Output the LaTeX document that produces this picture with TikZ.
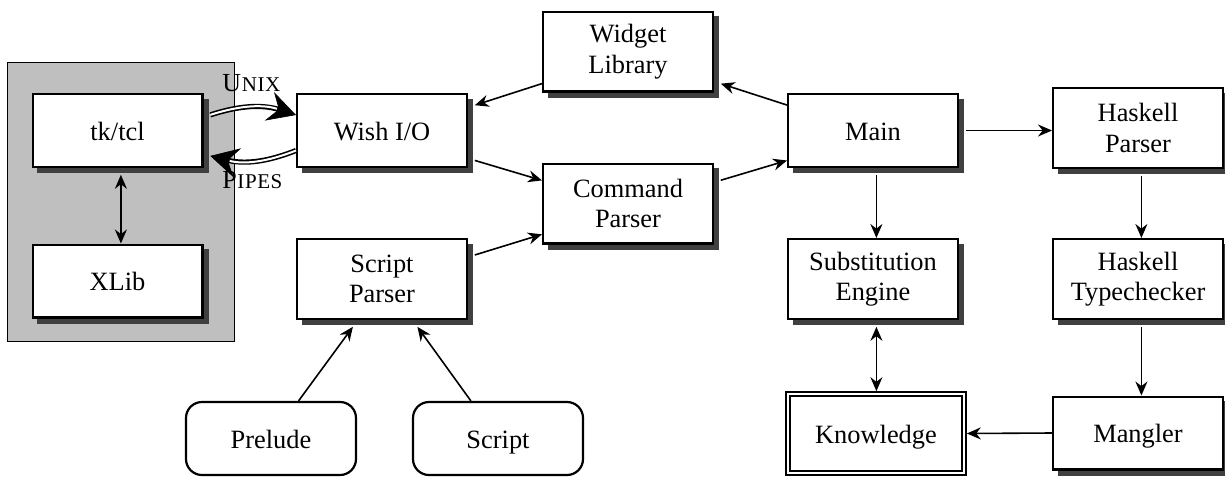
\documentclass[tikz,border=0pt]{standalone}
\usepackage{fontspec}
\setmainfont{Liberation Serif}
\usetikzlibrary{arrows.meta,shadows,fit}
\begin{document}
\begin{tikzpicture}[x=0.5pt,y=0.5pt,
  txt/.style={font=\fontsize{13.2}{15.3}\selectfont, align=center},
  one/.style={text height=10.5pt, text depth=1pt},
  box/.style={txt, draw, line width=1.2pt, fill=white, minimum width=84.8pt, minimum height=36.3pt, inner sep=0pt,
     drop shadow={shadow xshift=2.75pt, shadow yshift=-2.75pt, fill=black!75, draw=black!75, line width=1pt, opacity=1}},
  tall/.style={minimum height=39.8pt},
  rbox/.style={txt, one, draw, line width=1.1pt, fill=white, rounded corners=8pt, minimum width=85pt, minimum height=36.5pt, inner sep=0pt},
  hull/.style={inner sep=0pt, outer sep=0pt},
  conn/.style={line width=0.8pt, -{Stealth[length=7pt,width=6pt,inset=2.3pt]}},
  biconn/.style={line width=0.8pt, {Stealth[length=7pt,width=6pt,inset=2.3pt]}-{Stealth[length=7pt,width=6pt,inset=2.3pt]}},
  bigtip/.style={line width=0.3pt, -{Stealth[length=14pt,width=15pt,inset=5pt]}},
  pipeouter/.style={line width=2.6pt, shorten >=8pt},
  pipeinner/.style={white, line width=1pt, shorten >=10pt},
  lbl/.style={anchor=base west, inner sep=0pt},
]
\useasboundingbox (0,0) rectangle (1225,-477);
% grey panel
\draw[fill=black!25, line width=0.5pt] (7,-62) rectangle (234,-341);

% boxes
\node[box,one] (tk) at (117.5,-130.5) {tk/tcl};
\node[box,one] (xlib) at (117.5,-281) {XLib};
\node[box,one] (wish) at (382,-130.5) {Wish I/O};
\node[box,tall] (widget) at (628,-51.5) {Widget\\Library};
\node[box,tall] (cmd) at (628,-203.5) {Command\\Parser};
\node[box,tall] (sp) at (382,-279) {Script\\Parser};
\node[rbox] (prelude) at (271,-438.5) {Prelude};
\node[rbox] (script) at (498,-438.5) {Script};
\node[box,one] (main) at (873,-130.5) {Main};
\node[box,tall] (hp) at (1138,-128) {Haskell\\Parser};
\node[box,tall] (se) at (873,-279) {Substitution\\Engine};
\node[box,tall] (ht) at (1138,-279) {Haskell\\Typechecker};
\node[box,one] (mangler) at (1138,-433) {Mangler};
\node[txt, one, draw, line width=1.2pt, minimum width=85.8pt, minimum height=37.3pt, inner sep=0pt] (know) at (876,-433.5) {Knowledge};
\node[draw, line width=0.8pt, inner sep=1.5pt, fit=(know)] (knowO) {};

% hulls including the shadows
\foreach \n in {tk,xlib,wish,widget,cmd,sp,main,hp,se,ht,mangler}
  \node[hull, fit={(\n.north west) ([shift={(3.4pt,-3.4pt)}]\n.south east)}] (h\n) {};

% connectors
\draw[biconn] (htk.south) -- (hxlib.north);
\draw[conn] (hwidget) -- (hwish);
\draw[conn] (hmain) -- (hwidget);
\draw[conn] (hwish) -- (hcmd);
\draw[conn] (hcmd) -- (hmain);
\draw[conn] (hsp) -- (hcmd);
\draw[conn] (prelude) -- (hsp);
\draw[conn] (script) -- (hsp);
\draw[conn] (hmain.south) -- (hse.north);
\draw[conn] (hmain.east |- main.center) -- (hhp.west |- main.center);
\draw[conn] (hhp.south) -- (hht.north);
\draw[conn] (hht.south) -- (hmangler.north);
\draw[conn] (mangler.west) -- (knowO.east);
\draw[biconn] (hse.south) -- (hse.south |- knowO.north);

% unix pipes
\draw[bigtip] ([yshift=9.5pt]htk.east) to[bend left=18] ([yshift=7.75pt]wish.west);
\draw[pipeouter] ([yshift=9.5pt]htk.east) to[bend left=18] ([yshift=7.75pt]wish.west);
\draw[pipeinner] ([yshift=9.5pt]htk.east) to[bend left=18] ([yshift=7.75pt]wish.west);
\draw[bigtip] ([yshift=-10pt]wish.west) to[bend left=18] ([yshift=-11pt]htk.east);
\draw[pipeouter] ([yshift=-10pt]wish.west) to[bend left=18] ([yshift=-11pt]htk.east);
\draw[pipeinner] ([yshift=-10pt]wish.west) to[bend left=18] ([yshift=-11pt]htk.east);

\node[lbl] (unix) at (222,-91) {\fontsize{13}{15}\selectfont U\fontsize{10.5}{12}\selectfont\kern0.3pt N\kern0.3pt I\kern0.3pt X};
\node[lbl] (pipes) at (222,-188) {\fontsize{13}{15}\selectfont P\fontsize{10.5}{12}\selectfont\kern0.3pt I\kern0.3pt P\kern0.3pt E\kern0.3pt S};
\end{tikzpicture}
\end{document}
